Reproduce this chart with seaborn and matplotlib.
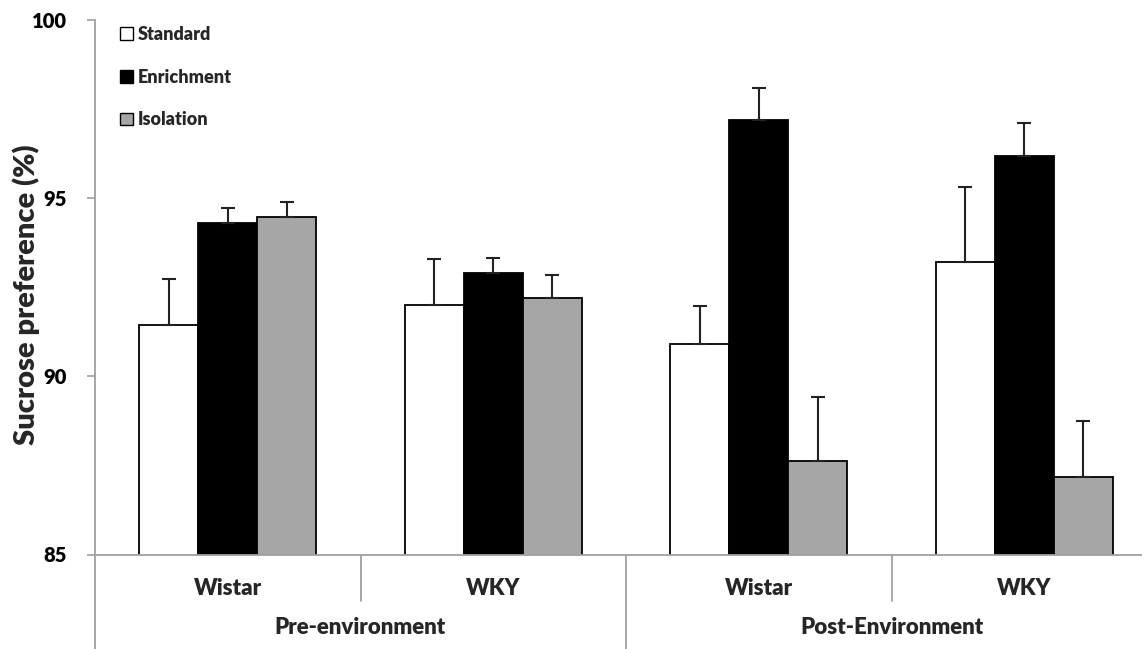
import matplotlib
matplotlib.use("Agg")
import matplotlib.pyplot as plt
import matplotlib.transforms as mtransforms
from matplotlib.patches import Patch
import numpy as np
import pandas as pd
import seaborn as sns

# Sucrose preference (%) per housing condition, before and after the environment phase
phases = ["Pre-environment", "Pre-environment", "Post-Environment", "Post-Environment"]
strains = ["Wistar", "WKY", "Wistar", "WKY"]
groups = ["Standard", "Enrichment", "Isolation"]

standard_mean = [91.45, 92.00, 90.90, 93.22]
enrichment_mean = [94.30, 92.89, 97.18, 96.18]
isolation_mean = [94.48, 92.19, 87.62, 87.17]

standard_sem = [1.29, 1.29, 1.07, 2.10]
enrichment_sem = [0.43, 0.44, 0.92, 0.92]
isolation_sem = [0.40, 0.66, 1.80, 1.59]

y_ticks = [85, 90, 95, 100]

sns.set_theme(style="white")
plt.rcParams["font.family"] = ["Lato", "DejaVu Sans"]
W = "heavy"

slots = [f"{p}|{s}" for p, s in zip(phases, strains)]
means = {"Standard": standard_mean, "Enrichment": enrichment_mean, "Isolation": isolation_mean}
sems = {"Standard": standard_sem, "Enrichment": enrichment_sem, "Isolation": isolation_sem}
df = pd.DataFrame(
    [(slot, g, means[g][i]) for g in groups for i, slot in enumerate(slots)],
    columns=["slot", "group", "value"],
)

colors = {"Standard": "#ffffff", "Enrichment": "#000000", "Isolation": "#a6a6a6"}

fig = plt.figure(figsize=(11.42, 6.49), dpi=100)
ax = fig.add_axes([95 / 1142, 1 - 554.5 / 649, 1062 / 1142, 534.5 / 649])

sns.barplot(
    data=df, x="slot", y="value", hue="group", order=slots, hue_order=groups,
    palette=colors, width=0.665, gap=0, edgecolor="#000000", linewidth=1.3,
    errorbar=None, legend=False, ax=ax,
)

# One-sided (upper) error bars placed on each bar's centre
bar_w = 0.665 / 3
for gi, g in enumerate(groups):
    xs = np.arange(len(slots)) - 0.665 / 2 + bar_w * (gi + 0.5)
    ax.errorbar(
        xs, means[g], yerr=[np.zeros(len(slots)), sems[g]], fmt="none",
        ecolor="#222222", elinewidth=1.5, capsize=5, capthick=1.5, zorder=5,
    )

ax.set_ylim(85, 100)
ax.set_xlim(-0.5, 3.5)
ax.set_yticks(y_ticks)
ax.set_yticklabels([str(t) for t in y_ticks], fontsize=14.5, fontweight=W)
ax.tick_params(axis="y", direction="out", length=6, width=1.2, color="#a0a0a0",
               pad=14, left=True, labelcolor="#000000")
ax.set_xticks([])
ax.set_xlabel("")
ax.set_ylabel("Sucrose preference (%)", fontsize=21, fontweight=W)
ax.yaxis.set_label_coords(-0.052, 0.4855)

for side in ["top", "right"]:
    ax.spines[side].set_visible(False)
for side in ["left", "bottom"]:
    ax.spines[side].set_color("#a0a0a0")
    ax.spines[side].set_linewidth(1.3)

# Two-level category axis: strain labels and phase labels with separators
trans = mtransforms.blended_transform_factory(ax.transData, ax.transAxes)
for i, s in enumerate(strains):
    ax.text(i, -0.0645, s, transform=trans, ha="center", va="center",
            fontsize=16, fontweight=W)
for xc, p in [(0.5, phases[0]), (2.5, phases[2])]:
    ax.text(xc, -0.1375, p, transform=trans, ha="center", va="center",
            fontsize=16, fontweight=W)
for xs in [0.5, 2.5]:
    ax.plot([xs, xs], [0, -0.087], transform=trans, color="#a0a0a0", lw=1.3, clip_on=False)
for xs in [-0.5, 1.5, 3.5]:
    ax.plot([xs, xs], [0, -0.18], transform=trans, color="#a0a0a0", lw=1.3, clip_on=False)

handles = [Patch(facecolor=colors[g], edgecolor="#000000", linewidth=1.0, label=g) for g in groups]
leg = ax.legend(
    handles=handles, loc="upper left", bbox_to_anchor=(120 / 1142, 1 - 26 / 649),
    bbox_transform=fig.transFigure, frameon=False, fontsize=13,
    handlelength=0.72, handleheight=0.72, handletextpad=0.25, labelspacing=1.42,
    borderpad=0, borderaxespad=0,
)
for t in leg.get_texts():
    t.set_fontweight(W)

fig.savefig("out.png", dpi=100)
